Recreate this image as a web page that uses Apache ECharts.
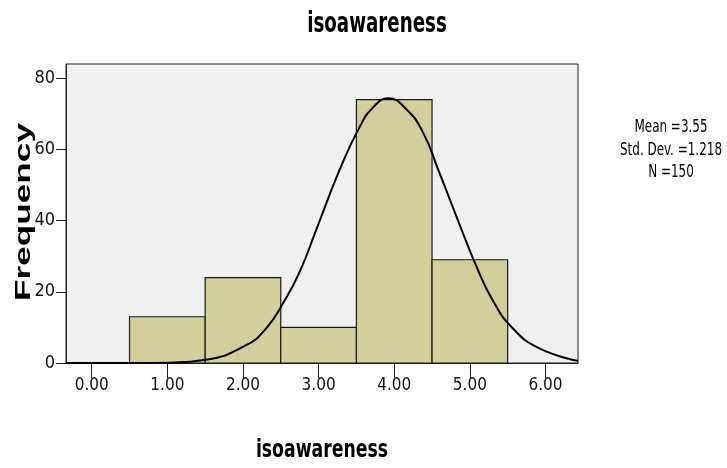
<!DOCTYPE html>
<html>
<head>
<meta charset="utf-8">
<script src="https://cdn.jsdelivr.net/npm/echarts@6/dist/echarts.min.js"></script>
<style>
  html, body { margin: 0; padding: 0; background: #fff; }
  #main { width: 727px; height: 468px; }
</style>
</head>
<body>
<div id="main"></div>
<script>
// histogram bins (isoawareness)
var binLo = [0.5, 1.5, 2.5, 3.5, 4.5];
var binHi = [1.5, 2.5, 3.5, 4.5, 5.5];
var freq = [13, 24, 10, 74, 29];

// normal curve
var curveX = [-0.34, 0.5, 1.03, 1.51, 2.04, 2.31, 2.53, 2.75, 2.97, 3.28, 3.54, 3.72, 3.92,
              4.16, 4.38, 4.58, 4.89, 5.06, 5.30, 5.57, 5.92, 6.43];
var curveY = [0, 0, 0.1, 0.9, 5.0, 9.8, 16.8, 25.6, 37.5, 54.4, 66.2, 71.8, 74.4,
              71.3, 64.8, 54.4, 37.5, 28.5, 17.7, 9.7, 4.1, 0.6];

var xTicks = [0, 1, 2, 3, 4, 5, 6];
var yTicks = [0, 20, 40, 60, 80];
var statLines = ['Mean =3.55', 'Std. Dev. =1.218', 'N =150'];

var NARROW = "'Liberation Sans Narrow', 'DejaVu Sans Condensed', 'Arial Narrow', sans-serif";
var WIDE = "'Liberation Sans', Arial, sans-serif";

var chart = echarts.init(document.getElementById('main'));

chart.setOption({
    animation: false,
    backgroundColor: '#ffffff',
    grid: {
        left: 66,
        top: 64,
        width: 512,
        height: 299,
        show: true,
        backgroundColor: '#f0f0f0',
        borderColor: '#222',
        borderWidth: 1
    },
    xAxis: {
        type: 'value',
        min: -0.34,
        max: 6.43,
        axisLine: { show: true, onZero: false, lineStyle: { color: '#222', width: 1 } },
        axisTick: { show: true, length: 15, customValues: xTicks, lineStyle: { color: '#222' } },
        axisLabel: {
            customValues: xTicks,
            margin: 14,
            color: '#111',
            fontFamily: NARROW,
            fontSize: 17,
            formatter: function (v) { return v.toFixed(2); }
        },
        splitLine: { show: false }
    },
    yAxis: {
        type: 'value',
        min: 0,
        max: 84,
        axisLine: { show: true, onZero: false, lineStyle: { color: '#222', width: 1 } },
        axisTick: { show: true, length: 10, customValues: yTicks, lineStyle: { color: '#222' } },
        axisLabel: {
            customValues: yTicks,
            margin: 11,
            color: '#111',
            fontFamily: NARROW,
            fontSize: 18,
            padding: [6, 0, 0, 0]
        },
        splitLine: { show: false }
    },
    graphic: [
        {   // title
            type: 'text', x: 377, y: 24.5, scaleX: 0.78, scaleY: 1.1,
            style: { text: 'isoawareness', fontFamily: NARROW, fontWeight: 'bold', fontSize: 26,
                     fill: '#000', align: 'center', verticalAlign: 'middle' }
        },
        {   // x axis name
            type: 'text', x: 322, y: 451, scaleX: 0.8, scaleY: 1.0,
            style: { text: 'isoawareness', fontFamily: NARROW, fontWeight: 'bold', fontSize: 24,
                     fill: '#000', align: 'center', verticalAlign: 'middle' }
        },
        {   // y axis name
            type: 'text', x: 24, y: 212, rotation: Math.PI / 2, scaleX: 1.6,
            style: { text: 'Frequency', fontFamily: WIDE, fontWeight: 'bold', fontSize: 22,
                     fill: '#000', align: 'center', verticalAlign: 'middle' }
        },
        {   // stats box
            type: 'text', x: 671, y: 150, scaleX: 0.76,
            style: { text: statLines.join('\n'), fontFamily: NARROW, fontSize: 17.5, lineHeight: 22.5,
                     fill: '#000', align: 'center', verticalAlign: 'middle' }
        }
    ],
    series: [
        {
            name: 'Frequency',
            type: 'custom',
            encode: { x: [0, 1], y: 2 },
            data: binLo.map(function (lo, i) { return [lo, binHi[i], freq[i]]; }),
            renderItem: function (params, api) {
                var p0 = api.coord([api.value(0), 0]);
                var p1 = api.coord([api.value(1), api.value(2)]);
                return {
                    type: 'rect',
                    shape: { x: p0[0], y: p1[1], width: p1[0] - p0[0], height: p0[1] - p1[1] },
                    style: { fill: '#d3cf9b', stroke: '#1a1a1a', lineWidth: 1.2 }
                };
            },
            z: 2
        },
        {
            name: 'Normal',
            type: 'line',
            data: curveX.map(function (x, i) { return [x, curveY[i]]; }),
            smooth: true,
            symbol: 'none',
            lineStyle: { color: '#000', width: 2 },
            z: 3
        }
    ]
});
</script>
</body>
</html>
